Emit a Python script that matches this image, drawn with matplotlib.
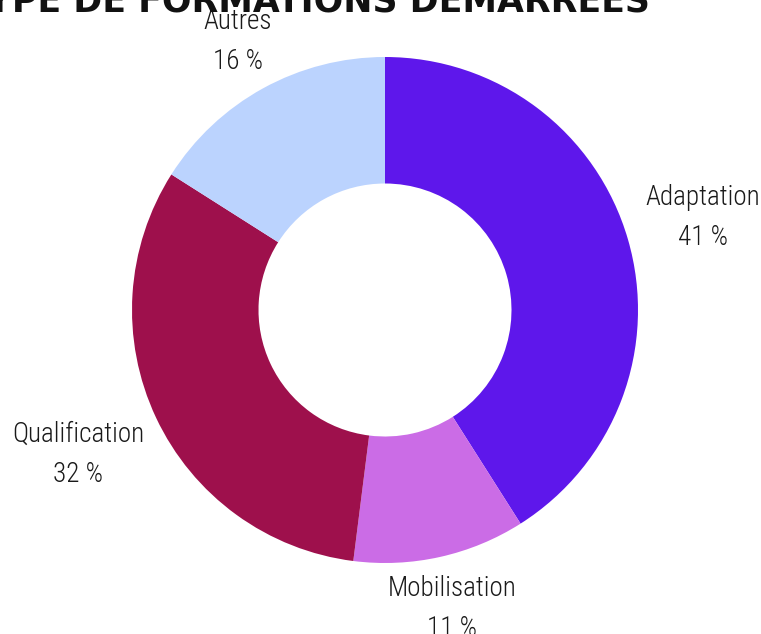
import matplotlib
matplotlib.use("Agg")
import matplotlib.pyplot as plt
import numpy as np

title = "TYPE DE FORMATIONS DÉMARRÉES"
categories = ["Adaptation", "Mobilisation", "Qualification", "Autres"]
values = [41, 11, 32, 16]
colors = ["#5E17EB", "#CB6CE6", "#9E104C", "#BBD3FE"]
label_dist = [1.31, 1.21, 1.34, 1.21]

W, H = 761, 634
cx, cy, R = 385, 310, 253

fig = plt.figure(figsize=(W / 100, H / 100), dpi=100)
ax = fig.add_axes([0, 0, 1, 1])

wedges, _ = ax.pie(values, colors=colors, startangle=90, counterclock=False,
                   radius=1.0, wedgeprops=dict(width=0.5, edgecolor="none"))
ax.set_aspect("auto")
ax.set_xlim(-cx / R, (W - cx) / R)
ax.set_ylim(-(H - cy) / R, cy / R)
ax.axis("off")

lab_font = ["Roboto Condensed", "DejaVu Sans"]
total = sum(values)
cum = 0
for cat, v, d in zip(categories, values, label_dist):
    mid = 90 - (cum + v / 2) / total * 360
    cum += v
    x = d * np.cos(np.radians(mid))
    y = d * np.sin(np.radians(mid))
    ax.text(x, y, f"{cat}\n{v}\u202f%", ha="center", va="center",
            fontsize=19.5, family=lab_font, fontweight="light", fontstretch="condensed",
            color="#1a1a1a", linespacing=1.6)

fig.text(306 / W, 1 - 12 / H, title, ha="center", va="baseline",
         fontsize=25, fontweight="heavy", family="DejaVu Sans", color="#111111")

fig.savefig("out.png", dpi=100, facecolor="white")
